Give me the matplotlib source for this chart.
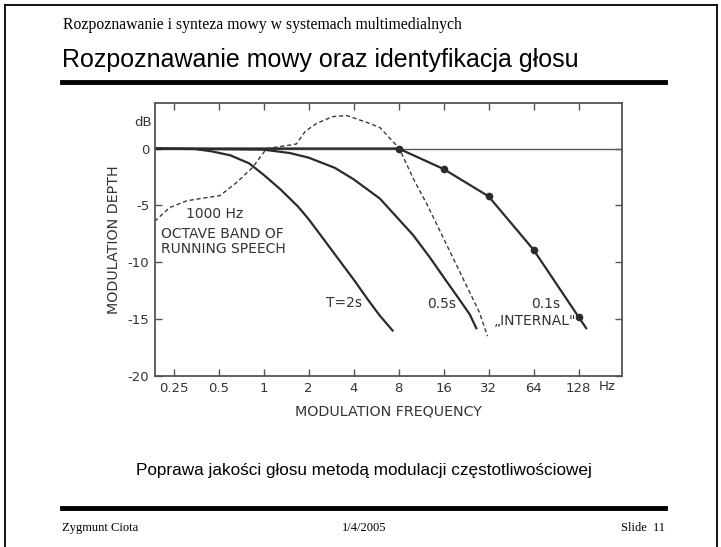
import matplotlib
matplotlib.use("Agg")
import matplotlib.pyplot as plt
from matplotlib.lines import Line2D

# values (frequency in Hz, depth in dB)
t2_freq = [0.19, 0.35, 0.45, 0.6, 0.8, 1.0, 1.3, 1.7, 2.0, 2.5, 3.0, 4.0, 5.0, 6.0, 7.3]
t2_db = [0.0, -0.05, -0.25, -0.6, -1.3, -2.3, -3.6, -5.1, -6.2, -7.9, -9.3, -11.5, -13.3, -14.7, -16.0]

t05_freq = [0.19, 1.0, 1.5, 2.0, 3.0, 4.0, 6.0, 8.0, 10.0, 13.0, 16.0, 20.0, 24.0, 26.5]
t05_db = [0.0, -0.1, -0.4, -0.8, -1.7, -2.7, -4.4, -6.2, -7.6, -9.6, -11.3, -13.1, -14.6, -15.8]

t01_freq = [0.19, 4.0, 8.0, 16.0, 32.0, 64.0, 128.0, 144.0]
t01_db = [0.0, 0.0, 0.0, -1.8, -4.2, -8.9, -14.8, -15.8]
t01_mark_freq = [8, 16, 32, 64, 128]
t01_mark_db = [0.0, -1.8, -4.2, -8.9, -14.8]

speech_freq = [0.187, 0.235, 0.306, 0.4, 0.51, 0.66, 0.84, 1.05, 1.42, 1.66, 1.9, 2.26, 2.9, 3.6, 4.9, 6.0, 7.0, 8.1,
               10.0, 12.5, 16.0, 21.0, 27.8, 31.5]
speech_db = [-6.4, -5.2, -4.6, -4.35, -4.15, -3.0, -1.7, 0.0, 0.25, 0.4, 1.5, 2.2, 2.8, 2.9, 2.3, 1.85, 0.9, 0.0,
             -2.6, -5.0, -7.9, -11.1, -14.4, -16.5]

xticks = [0.25, 0.5, 1, 2, 4, 8, 16, 32, 64, 128]
xtick_labels = ["0.25", "0.5", "1", "2", "4", "8", "16", "32", "64", "128"]
yticks = [0, -5, -10, -15, -20]

W, H = 721, 547
fig = plt.figure(figsize=(W / 100, H / 100), dpi=100)


def px(x, y):
    return x / W, 1 - y / H


# slide frame and rules
frame = dict(color="black", lw=1.3, transform=fig.transFigure)
fig.add_artist(Line2D([5 / W, 5 / W], [0, 1 - 5 / H], **frame))
fig.add_artist(Line2D([5 / W, 717 / W], [1 - 5 / H, 1 - 5 / H], **frame))
fig.add_artist(Line2D([717 / W, 717 / W], [0, 1 - 5 / H], **frame))
fig.add_artist(Line2D([62 / W, 665 / W], [1 - 82 / H, 1 - 82 / H], color="black", lw=3.5,
                      transform=fig.transFigure))
fig.add_artist(Line2D([62 / W, 665 / W], [1 - 508 / H, 1 - 508 / H], color="black", lw=3.5,
                      transform=fig.transFigure))

serif = "Liberation Serif"
sans = "Liberation Sans"
fig.text(*px(63, 25), "Rozpoznawanie i synteza mowy w systemach multimedialnych", family=serif,
         fontsize=11.3, va="center")
fig.text(*px(62, 60), "Rozpoznawanie mowy oraz identyfikacja głosu", family=sans, fontsize=18, va="center")
fig.text(*px(364, 470), "Poprawa jakości głosu metodą modulacji częstotliwościowej", family=sans,
         fontsize=12.3, ha="center", va="center")
fig.text(*px(62, 528), "Zygmunt Ciota", family=serif, fontsize=9, va="center")
fig.text(*px(364, 528), "1/4/2005", family=serif, fontsize=9, ha="center", va="center")
fig.text(*px(665, 528), "Slide  11", family=serif, fontsize=9, ha="right", va="center")

# the scanned chart
ax = fig.add_axes([155 / W, 1 - 376 / H, 467 / W, 273 / H])
ink = "#2b2b2b"
ax.set_xscale("log", base=2)
ax.set_xlim(0.188, 250)
ax.set_ylim(-20, 4)

ax.axhline(0, color="#5a5a5a", lw=1.0)
ax.plot(t2_freq, t2_db, color=ink, lw=1.6)
ax.plot(t05_freq, t05_db, color=ink, lw=1.6)
ax.plot(t01_freq, t01_db, color=ink, lw=1.6)
ax.plot(t01_mark_freq, t01_mark_db, "o", color=ink, ms=4.5)
ax.plot(speech_freq, speech_db, color="#3a3a3a", lw=1.0, ls=(0, (3, 2)))

for s in ax.spines.values():
    s.set_color("#555555")
    s.set_linewidth(1.3)

ax.set_xticks(xticks)
ax.set_xticklabels(xtick_labels)
ax.minorticks_off()
ax.set_yticks(yticks)
ax.set_yticklabels([str(v) for v in yticks])
ax.tick_params(axis="both", direction="in", length=5, width=1, color="#555555",
               labelsize=9.5, labelcolor="#333333", top=True, right=True, pad=4)
ax.tick_params(axis="y", right=True, labelright=False)

lab = dict(color="#333333", family="DejaVu Sans", fontsize=10.3)
ax.set_xlabel("MODULATION FREQUENCY", labelpad=7, **lab)
ax.set_ylabel("MODULATION DEPTH", labelpad=5, **lab)
fig.text(*px(143, 123), "dB", ha="center", va="center", color="#333333", family="DejaVu Sans", fontsize=9.5)
fig.text(*px(607, 387), "Hz", ha="center", va="center", color="#333333", family="DejaVu Sans", fontsize=9.5)

note = dict(color="#333333", family="DejaVu Sans", fontsize=10, transform=ax.transData)
ax.text(0.47, -5.8, "1000 Hz", ha="center", va="center", **note)
ax.text(0.205, -7.5, "OCTAVE BAND OF", ha="left", va="center", **note)
ax.text(0.205, -8.8, "RUNNING SPEECH", ha="left", va="center", **note)
ax.text(3.48, -13.6, "T=2s", ha="center", va="center", **note)
ax.text(15.5, -13.7, "0.5s", ha="center", va="center", **note)
ax.text(77, -13.7, "0.1s", ha="center", va="center", **note)
ax.text(66, -15.2, "„INTERNAL\"", ha="center", va="center", **note)

fig.savefig("out.png", dpi=100)
